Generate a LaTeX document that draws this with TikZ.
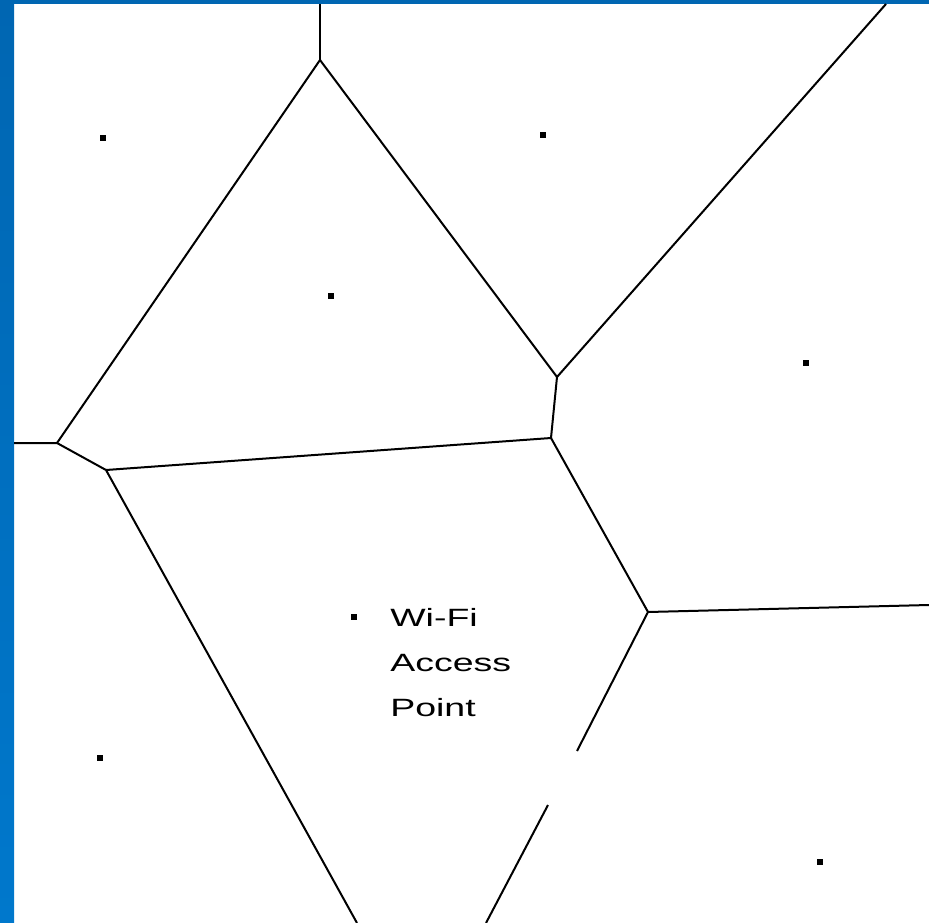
\documentclass[tikz,border=0pt]{standalone}
\usepackage{fontspec}
\setmainfont{Liberation Sans}
\usetikzlibrary{positioning}
\definecolor{frameTop}{HTML}{0066B2}
\definecolor{frameBot}{HTML}{0078CC}
\begin{document}
\begin{tikzpicture}[x=1pt,y=-1pt,
    edge/.style={line width=2pt,black},
    site/.style={fill=black,inner sep=0pt,minimum size=6pt,rectangle},
    lbl/.style={font=\fontsize{25}{45}\selectfont,align=left,anchor=north west,
      inner sep=0pt,xscale=1.5,transform shape}]
  \useasboundingbox (0,0) rectangle (929,923);
  % frame
  \shade[top color=frameTop,bottom color=frameBot] (0,0) rectangle (14,923);
  \fill[frameTop] (0,0) rectangle (929,4);
  % vertices of the cells
  \coordinate (vA) at (320,60);
  \coordinate (vB) at (57,443);
  \coordinate (vC) at (106,470);
  \coordinate (vD) at (551,438);
  \coordinate (vE) at (557,377);
  \coordinate (vF) at (648,612);
  \coordinate (gapTop) at (577,751);
  \coordinate (gapBot) at (548,805);
  % free ends at the frame
  \coordinate (eTop) at (320,4);
  \coordinate (eLeft) at (14,443);
  \coordinate (eTopRight) at (886,4);
  \coordinate (eRight) at (929,605);
  \coordinate (eBotL) at (357,923);
  \coordinate (eBotR) at (486,923);
  % cell borders
  \draw[edge] (eTop) -- (vA);
  \draw[edge] (vA) -- (vB);
  \draw[edge] (vA) -- (vE);
  \draw[edge] (eLeft) -- (vB) -- (vC);
  \draw[edge] (vC) -- (vD);
  \draw[edge] (vD) -- (vE);
  \draw[edge] (vE) -- (eTopRight);
  \draw[edge] (vD) -- (vF);
  \draw[edge] (vF) -- (eRight);
  \draw[edge] (vF) -- (gapTop);
  \draw[edge] (gapBot) -- (eBotR);
  \draw[edge] (vC) -- (eBotL);
  % sites
  \node[site] (s1) at (103,138) {};
  \node[site] (s2) at (543,135) {};
  \node[site] (s3) at (331,296) {};
  \node[site] (s4) at (806,363) {};
  \node[site] (ap) at (354,617) {};
  \node[site] (s6) at (100,758) {};
  \node[site] (s7) at (820,862) {};
  \node[lbl] (apText) at (390,608) {Wi-Fi\\Access\\Point};
\end{tikzpicture}
\end{document}
